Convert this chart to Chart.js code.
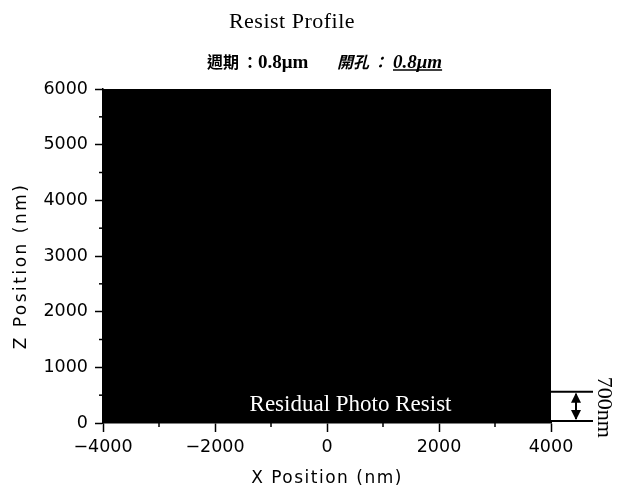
<!DOCTYPE html>
<html><head><meta charset="utf-8">
<script src="https://cdn.jsdelivr.net/npm/chart.js@4"></script>
<style>html,body{margin:0;padding:0;background:#fff}#w{width:623px;height:491px}</style>
</head><body><div id="w"><canvas id="c" width="623" height="491"></canvas></div>
<script>
// Data
const profileX = [-4000, 4000];
const profileZ = [6000, 6000];
const xTicks = [-4000, -2000, 0, 2000, 4000];
const yTicks = [0, 1000, 2000, 3000, 4000, 5000, 6000];
const xMinor = [-3000, -1000, 1000, 3000];
const yMinor = [500, 1500, 2500, 3500, 4500, 5500];
const residualZ = [0, 560];
const residualLabel = ["700nm"];
const residualText = ["Residual Photo Resist"];
const residualTextPos = [420, 330];
const titleText = "Resist Profile";
const xTitle = "X Position (nm)";
const yTitle = "Z Position (nm)";

const points = profileX.map((x, i) => ({x: x, y: profileZ[i]}));

const overlay = {
  id: 'overlay',
  afterDraw(chart) {
    const ctx = chart.ctx, xs = chart.scales.x, ys = chart.scales.y, a = chart.chartArea;
    ctx.save();
    // minor ticks
    ctx.strokeStyle = '#000'; ctx.lineWidth = 1.5;
    xMinor.forEach(v => { const p = xs.getPixelForValue(v); ctx.beginPath(); ctx.moveTo(p, a.bottom); ctx.lineTo(p, a.bottom + 4); ctx.stroke(); });
    yMinor.forEach(v => { const p = ys.getPixelForValue(v); ctx.beginPath(); ctx.moveTo(a.left, p); ctx.lineTo(a.left - 4, p); ctx.stroke(); });
    // title
    ctx.fillStyle = '#000';
    ctx.textAlign = 'center'; ctx.textBaseline = 'middle';
    ctx.font = '22px "Liberation Serif"';
    ctx.letterSpacing = '0.5px';
    ctx.fillText(titleText, 292, 22);
    ctx.letterSpacing = '0px';
    // subtitle
    ctx.textAlign = 'left'; ctx.textBaseline = 'alphabetic';
    const base = 68;
    ctx.font = 'bold 16px "Noto Sans CJK TC"';
    ctx.fillText('週期', 207, base);
    ctx.fillText('：', 242, base);
    ctx.font = 'bold 19px "Liberation Serif"';
    ctx.fillText('0.8μm', 258, base);
    ctx.font = 'italic bold 16px "Noto Sans CJK TC"';
    ctx.fillText('開孔', 337, base);
    ctx.fillText('：', 372, base);
    ctx.font = 'italic bold 19px "Liberation Serif"';
    const w2 = ctx.measureText('0.8μm').width;
    ctx.fillText('0.8μm', 393, base);
    ctx.lineWidth = 1.5; ctx.beginPath(); ctx.moveTo(393, base + 2); ctx.lineTo(393 + w2, base + 2); ctx.stroke();
    // axis titles
    ctx.textAlign = 'center'; ctx.textBaseline = 'middle';
    ctx.font = '17px "DejaVu Sans"';
    ctx.letterSpacing = '1.5px';
    ctx.fillText(xTitle, (a.left + a.right) / 2, 479);
    ctx.save();
    ctx.translate(22, 266); ctx.rotate(-Math.PI / 2);
    ctx.letterSpacing = '2.5px';
    ctx.fillText(yTitle, 0, 0);
    ctx.restore();
    ctx.letterSpacing = '0px';
    // residual text
    ctx.fillStyle = '#fff';
    ctx.font = '23px "Liberation Serif"';
    ctx.textAlign = 'center';
    ctx.fillText(residualText[0], xs.getPixelForValue(residualTextPos[0]), ys.getPixelForValue(residualTextPos[1]));
    // thickness annotation
    const y0 = ys.getPixelForValue(residualZ[0]), y1 = ys.getPixelForValue(residualZ[1]);
    ctx.strokeStyle = '#000'; ctx.fillStyle = '#000'; ctx.lineWidth = 2;
    ctx.beginPath(); ctx.moveTo(a.right, y0 - 2); ctx.lineTo(a.right + 42, y0 - 2); ctx.stroke();
    ctx.beginPath(); ctx.moveTo(a.right, y1); ctx.lineTo(a.right + 42, y1); ctx.stroke();
    const ax = a.right + 25;
    ctx.beginPath(); ctx.moveTo(ax, y1 + 2); ctx.lineTo(ax, y0 - 4); ctx.stroke();
    ctx.beginPath(); ctx.moveTo(ax, y1 + 1); ctx.lineTo(ax - 5, y1 + 11); ctx.lineTo(ax + 5, y1 + 11); ctx.closePath(); ctx.fill();
    ctx.beginPath(); ctx.moveTo(ax, y0 - 3); ctx.lineTo(ax - 5, y0 - 13); ctx.lineTo(ax + 5, y0 - 13); ctx.closePath(); ctx.fill();
    ctx.translate(a.right + 53, (y0 + y1) / 2);
    ctx.rotate(Math.PI / 2);
    ctx.font = '22px "Liberation Serif"';
    ctx.textAlign = 'center'; ctx.textBaseline = 'middle';
    ctx.fillText(residualLabel[0], 0, 0);
    ctx.restore();
  }
};

new Chart(document.getElementById('c'), {
  type: 'scatter',
  data: { datasets: [{
    data: points, showLine: true, borderColor: '#000', backgroundColor: '#000',
    borderWidth: 1, pointRadius: 0, fill: 'origin'
  }]},
  options: {
    responsive: false, animation: false, devicePixelRatio: 1,
    layout: { padding: { left: 0, top: 89, right: 72, bottom: 0 } },
    plugins: { legend: { display: false }, tooltip: { enabled: false } },
    scales: {
      x: {
        type: 'linear', min: -4000, max: 4000,
        afterBuildTicks: s => { s.ticks = xTicks.map(v => ({value: v})); },
        afterFit: s => { s.height = 68; },
        grid: { drawOnChartArea: false, tickLength: 9, tickWidth: 1.5, tickColor: '#000' },
        border: { color: '#000', width: 1.5 },
        ticks: { color: '#000', font: { family: 'DejaVu Sans', size: 17.5 }, padding: 5, maxRotation: 0,
                 callback: v => (v < 0 ? '\u2212' : '') + Math.abs(v) },
        title: { display: false }
      },
      y: {
        type: 'linear', min: 0, max: 6000,
        afterBuildTicks: s => { s.ticks = yTicks.map(v => ({value: v})); },
        afterFit: s => { s.width = 103; },
        grid: { drawOnChartArea: false, tickLength: 8, tickWidth: 1.5, tickColor: '#000' },
        border: { color: '#000', width: 1.5 },
        ticks: { color: '#000', font: { family: 'DejaVu Sans', size: 17.5 }, padding: 7,
                 callback: v => String(v) },
        title: { display: false }
      }
    }
  },
  plugins: [overlay]
});
</script></body></html>
